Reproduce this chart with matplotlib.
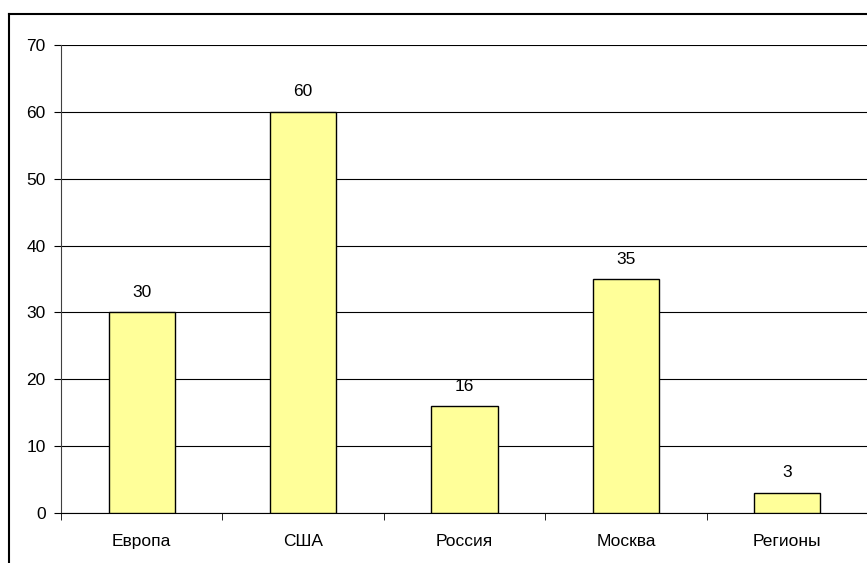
import matplotlib
matplotlib.use("Agg")
import matplotlib.pyplot as plt
from matplotlib.lines import Line2D
import numpy as np

categories = ["Европа", "США", "Россия", "Москва", "Регионы"]
values = [30, 60, 16, 35, 3]
yticks = [0, 10, 20, 30, 40, 50, 60, 70]

W, H = 867, 563
plt.rcParams['font.family'] = ['Liberation Sans', 'DejaVu Sans']
fig = plt.figure(figsize=(W / 100, H / 100), dpi=100)
FS = 12.5

# outer chart border (extends past right and bottom edges)
fig.add_artist(Line2D([9 / W, 9 / W], [0, 1 - 14 / H], transform=fig.transFigure, color='black', lw=1.5))
fig.add_artist(Line2D([9 / W, 1], [1 - 14 / H, 1 - 14 / H], transform=fig.transFigure, color='black', lw=1.5))

left, right, top, bottom = 61, 868, 45, 513
ax = fig.add_axes([left / W, 1 - bottom / H, (right - left) / W, (bottom - top) / H])

x = np.arange(len(categories))
ax.bar(x, values, width=0.41, color='#FFFF99', edgecolor='black', linewidth=1.0, zorder=3)
for xi, v in zip(x, values):
    ax.annotate(str(v), (xi, v), xytext=(0, 9), textcoords='offset points',
                ha='center', va='bottom', fontsize=FS)

ax.set_xlim(-0.5, len(categories) - 0.5)
ax.set_ylim(0, 70)
ax.set_yticks(yticks)
ax.set_yticklabels([str(t) for t in yticks], fontsize=FS)
ax.yaxis.grid(True, color='black', linewidth=0.8, zorder=0)
ax.set_axisbelow(True)

ax.set_xticks(x)
ax.set_xticklabels(categories, fontsize=FS)
ax.tick_params(axis='x', which='major', length=0, pad=15)
ax.set_xticks(np.arange(len(categories) + 1) - 0.5, minor=True)
ax.tick_params(axis='x', which='minor', length=5, direction='out', color='black')
ax.tick_params(axis='y', length=5, direction='out', color='black', pad=6)

for s in ['top', 'right']:
    ax.spines[s].set_visible(False)
ax.spines['left'].set_color('#404040')
ax.spines['bottom'].set_color('black')

fig.savefig("out.png", dpi=100)
